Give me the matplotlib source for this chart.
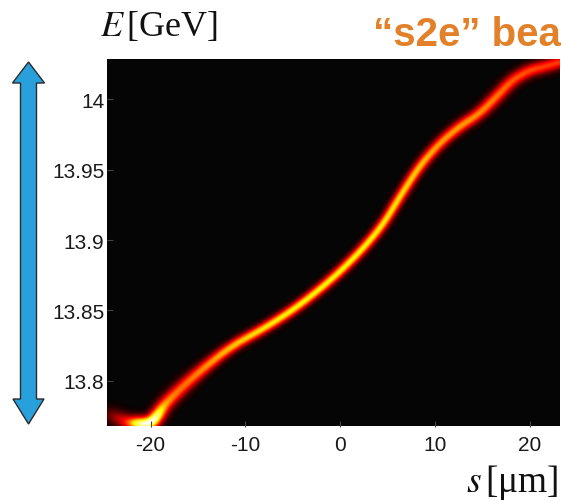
import numpy as np
import matplotlib
matplotlib.use("Agg")
import matplotlib.pyplot as plt
from matplotlib.patches import Polygon
from matplotlib.colors import ListedColormap

plt.rcParams['mathtext.fontset'] = 'stix'

# ridge of the longitudinal phase space (s in um, E in GeV)
ridge_s = [-24.6, -22.5, -21.5, -20.5, -19.8, -19.2, -18.5, -16.7, -14.5, -11.5, -7.7, -4.3,
           -0.8, 2.1, 4.5, 6.3, 8.4, 10.5, 12.6, 14.7, 16.5, 18.2, 20.0, 21.8, 23.3]
ridge_E = [13.776, 13.770, 13.769, 13.769, 13.771, 13.776, 13.783, 13.795, 13.808, 13.824, 13.838, 13.853,
           13.872, 13.891, 13.910, 13.930, 13.952, 13.968, 13.980, 13.989, 14.001, 14.013, 14.020, 14.023, 14.026]
# peak density along the ridge (normalised) and core width in pixels
ridge_peak = [0.08, 0.4, 0.85, 1.0, 1.0, 0.85, 0.6, 0.52, 0.58, 0.66, 0.72, 0.74,
              0.74, 0.74, 0.72, 0.7, 0.66, 0.6, 0.6, 0.58, 0.55, 0.5, 0.48, 0.45, 0.45]
ridge_w = [5.5, 5.2, 5.0, 5.0, 5.0, 5.0, 5.0, 5.0, 4.4, 3.9, 3.7, 3.6,
           3.6, 3.6, 3.6, 3.7, 3.8, 4.0, 4.2, 4.3, 4.5, 4.6, 4.6, 4.6, 4.6]

s_lim = (-24.6, 23.2)
E_lim = (13.7677, 14.0284)
s_ticks = [-20, -10, 0, 10, 20]
E_ticks = [13.8, 13.85, 13.9, 13.95, 14.0]
E_ticklabels = ['13.8', '13.85', '13.9', '13.95', '14']

W, H = 565, 502
fig = plt.figure(figsize=(W / 100, H / 100), dpi=100)
ax = fig.add_axes([107 / W, (H - 427.5) / H, 453 / W, 367.5 / H])

# pixel scale of the axes, used so the band width is in screen units
nx, ny = 453, 368
px_s = nx / (s_lim[1] - s_lim[0])
px_E = ny / (E_lim[1] - E_lim[0])

sg = np.linspace(s_lim[0], s_lim[1], nx)
eg = np.linspace(E_lim[0], E_lim[1], ny)
SS, EE = np.meshgrid(sg, eg)

# dense ridge, lightly smoothed so the band has no kinks
t = np.linspace(0, len(ridge_s) - 1, 800)
idx = np.arange(len(ridge_s))
k = np.ones(31) / 31


def smooth(v):
    vp = np.pad(v, 15, mode='edge')
    return np.convolve(vp, k, mode='valid')


rs = smooth(np.interp(t, idx, ridge_s))
re = smooth(np.interp(t, idx, ridge_E))
rp = smooth(np.interp(t, idx, ridge_peak))
rw = smooth(np.interp(t, idx, ridge_w))

img = np.zeros_like(SS)
for a, b, p, w in zip(rs, re, rp, rw):
    d2 = ((SS - a) * px_s) ** 2 + ((EE - b) * px_E) ** 2
    np.maximum(img, p * np.exp(-d2 / (2 * w * w)), out=img)

cols = plt.cm.hot(np.linspace(0, 1, 256))
cols[0] = (0.02, 0.02, 0.02, 1.0)
cmap = ListedColormap(cols)

ax.imshow(img, extent=[s_lim[0], s_lim[1], E_lim[0], E_lim[1]], origin='lower',
          aspect='auto', cmap=cmap, vmin=0, vmax=1, interpolation='bilinear')
ax.set_xlim(s_lim)
ax.set_ylim(E_lim)

ax.set_xticks(s_ticks)
ax.set_xticklabels([str(v) for v in s_ticks])
ax.set_yticks(E_ticks)
ax.set_yticklabels(E_ticklabels)
for lab in ax.get_xticklabels() + ax.get_yticklabels():
    lab.set_family('Liberation Sans')
    lab.set_fontsize(15)
    lab.set_color('#1a1a1a')
ax.tick_params(direction='in', length=4, color='#444444', pad=2)
ax.tick_params(axis='x', pad=6)
for sp in ax.spines.values():
    sp.set_visible(False)

# axis labels
fig.text(100 / W, (H - 36) / H, r'$E\,$[GeV]', family='Liberation Serif',
         fontsize=26, va='baseline', ha='left', color='#111111')
fig.text(558 / W, (H - 492) / H, r'$s\,$[μm]', family='Liberation Serif',
         fontsize=27, va='baseline', ha='right', color='#111111')

# headline
fig.text(373 / W, (H - 46) / H, '\u201cs2e\u201d bea', family='Liberation Sans',
         fontweight='bold', fontsize=29, color='#E3812B', va='baseline', ha='left')

# energy arrow
arrow_px = [(28.5, 63), (44.5, 84), (36.5, 84), (36.5, 400), (44, 400), (28.5, 425),
            (13, 400), (20.5, 400), (20.5, 84), (12.5, 84)]
arrow_fig = [(x / W, (H - y) / H) for x, y in arrow_px]
fig.patches.append(Polygon(arrow_fig, closed=True, transform=fig.transFigure,
                           facecolor='#27A0DC', edgecolor='#2b2b2b', lw=1.0))

fig.savefig('out.png', dpi=100)
